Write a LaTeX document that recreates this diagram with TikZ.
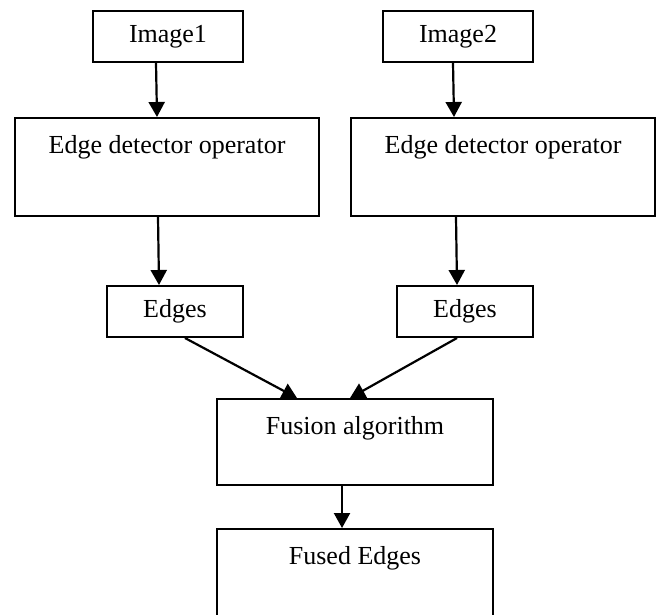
\documentclass[tikz,border=0pt]{standalone}
\usepackage{fontspec}
\setmainfont{Liberation Serif}
\usepackage{tikz}
\usetikzlibrary{positioning, arrows.meta}

\begin{document}
\begin{tikzpicture}[
                x=1pt, y=-1pt,
                font=\fontsize{26}{31}\selectfont,
                smallbox/.style={
                        draw,
                        line width=2pt,
                        minimum width=150pt,
                        minimum height=51pt
                    },
                bigbox/.style={
                        draw,
                        line width=2pt,
                        minimum width=304pt,
                        minimum height=98pt
                    },
                toptext/.style={label={[anchor=base, yshift=-36pt]north:#1}},
                flow/.style={-{Triangle[length=15pt, width=16pt]}, line width=2.2pt}
            ]

            \clip (0,0) rectangle (660,614);

            \node[smallbox] (imga) at (168,36.5) {Image1};
            \node[smallbox] (imgb) at (458,36.5) {Image2};
            \node[bigbox, toptext=Edge detector operator] (deta) at (167,167) {};
            \node[bigbox, toptext=Edge detector operator] (detb) at (503,167) {};
            \node[smallbox, minimum width=136pt] (edga) at (175,311.5) {Edges};
            \node[smallbox, minimum width=136pt] (edgb) at (465,311.5) {Edges};
            \node[bigbox, minimum width=276pt, minimum height=86pt, toptext=Fusion algorithm] (fus) at (355,442) {};
            \node[bigbox, minimum width=276pt, minimum height=91pt, toptext=Fused Edges] (out) at (355,574.5) {};


            \draw[flow] ([xshift=-12pt]imga.south) -- ([xshift=-10pt]deta.north);
            \draw[flow] ([xshift=-5pt]imgb.south) -- ([xshift=-49pt]detb.north);
            \draw[flow] ([xshift=-9pt]deta.south) -- ([xshift=-16pt]edga.north);
            \draw[flow] ([xshift=-47pt]detb.south) -- ([xshift=-8pt]edgb.north);
            \draw[flow] ([xshift=10pt]edga.south) -- ([xshift=-58pt]fus.north);
            \draw[flow] ([xshift=-8pt]edgb.south) -- ([xshift=-5pt]fus.north);
            \draw[flow] ([xshift=-13pt]fus.south) -- ([xshift=-13pt]out.north);


        \end{tikzpicture}
\end{document}
